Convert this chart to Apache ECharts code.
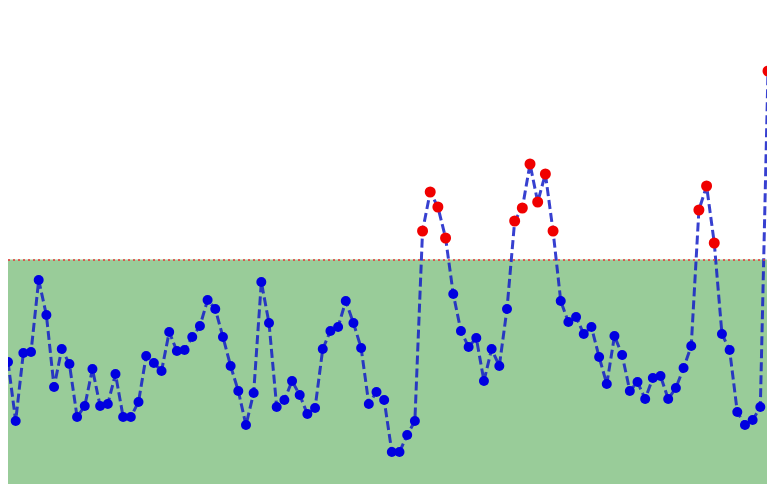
<!DOCTYPE html>
<html>
<head>
<meta charset="utf-8">
<script src="https://cdn.jsdelivr.net/npm/echarts@6/dist/echarts.min.js"></script>
<style>
html,body{margin:0;padding:0;background:#fff;width:767px;height:484px;overflow:hidden;}
#wrap{position:absolute;left:8px;top:0;width:759px;height:484px;overflow:hidden;}
#chart{position:absolute;left:0;top:0;width:760px;height:484px;}
</style>
</head>
<body>
<div id="wrap"><div id="chart"></div></div>
<script>
// Data values
const values = [
  12.2, 6.3, 13.1, 13.2, 20.4, 16.9, 9.7, 13.5, 12.0, 6.7,
  7.8, 11.5, 7.8, 8.0, 11.0, 6.7, 6.7, 8.2, 12.8, 12.1,
  11.3, 15.2, 13.3, 13.4, 14.7, 15.8, 18.4, 17.5, 14.7, 11.8,
  9.3, 5.9, 9.1, 20.2, 16.1, 7.7, 8.4, 10.3, 8.9, 7.0,
  7.6, 13.5, 15.3, 15.7, 18.3, 16.1, 13.6, 8.0, 9.2, 8.4,
  3.2, 3.2, 4.9, 6.3, 25.3, 29.2, 27.7, 24.6, 19.0, 15.3,
  13.7, 14.6, 10.3, 13.5, 11.8, 17.5, 26.3, 27.6, 32.0, 28.2,
  31.0, 25.3, 18.3, 16.2, 16.7, 15.0, 15.7, 12.7, 10.0, 14.8,
  12.9, 9.3, 10.2, 8.5, 10.6, 10.8, 8.5, 9.6, 11.6, 13.8,
  27.4, 29.8, 24.1, 15.0, 13.4, 7.2, 5.9, 6.4, 7.7, 41.3
];
const categories = values.map((_, i) => i);
const threshold = 22.45;
const yMin = 0;
const yMax = 48.4;

const lineData = values.map(v => ({
  value: v,
  symbolSize: v > threshold ? 11 : 10,
  itemStyle: { color: v > threshold ? '#f00000' : '#0000e0' }
}));

const chart = echarts.init(document.getElementById('chart'), null, { renderer: 'canvas' });
chart.setOption({
  animation: false,
  grid: { left: 0, right: 0, top: 0, bottom: 0 },
  xAxis: {
    type: 'category', data: categories, boundaryGap: false, show: false
  },
  yAxis: {
    type: 'value', min: yMin, max: yMax, show: false
  },
  series: [
    {
      type: 'line', data: [], z: 1, silent: true,
      markArea: {
        silent: true,
        itemStyle: { color: 'rgba(0,128,0,0.4)' },
        data: [[{ yAxis: yMin }, { yAxis: threshold }]]
      },
      markLine: {
        silent: true, symbol: ['none', 'none'], label: { show: false },
        lineStyle: { color: 'rgba(230,60,60,0.8)', type: [2, 3], width: 2 },
        data: [{ yAxis: threshold }]
      }
    },
    {
      type: 'line', data: lineData, z: 3,
      symbol: 'circle', showAllSymbol: true, clip: false,
      lineStyle: { color: 'rgba(20,30,200,0.85)', width: 3, type: [9, 4] },
      emphasis: { disabled: true }
    }
  ]
});
</script>
</body>
</html>
